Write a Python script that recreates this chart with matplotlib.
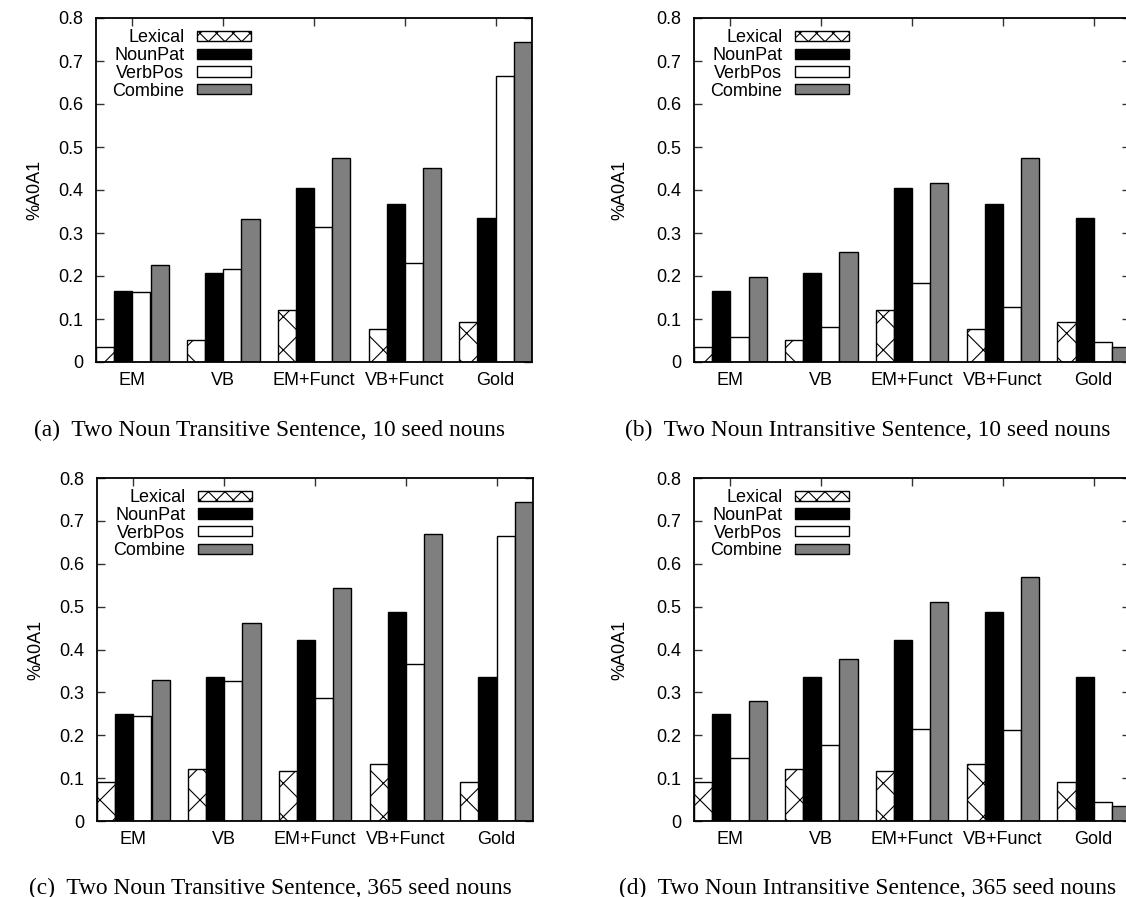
import numpy as np
import matplotlib
matplotlib.use("Agg")
import matplotlib.pyplot as plt
from matplotlib.patches import Patch

# categories and series
categories = ["EM", "VB", "EM+Funct", "VB+Funct", "Gold"]
series = ["Lexical", "NounPat", "VerbPos", "Combine"]

# (a) transitive, 10 seed nouns
a_lexical = [0.036, 0.052, 0.122, 0.077, 0.092]
a_nounpat = [0.165, 0.206, 0.404, 0.367, 0.336]
a_verbpos = [0.163, 0.217, 0.314, 0.230, 0.665]
a_combine = [0.225, 0.333, 0.475, 0.452, 0.744]

# (b) intransitive, 10 seed nouns
b_lexical = [0.036, 0.052, 0.122, 0.077, 0.092]
b_nounpat = [0.165, 0.206, 0.404, 0.367, 0.336]
b_verbpos = [0.057, 0.081, 0.183, 0.129, 0.046]
b_combine = [0.197, 0.255, 0.417, 0.475, 0.036]

# (c) transitive, 365 seed nouns
c_lexical = [0.092, 0.122, 0.116, 0.134, 0.092]
c_nounpat = [0.249, 0.337, 0.423, 0.488, 0.336]
c_verbpos = [0.246, 0.327, 0.287, 0.367, 0.664]
c_combine = [0.329, 0.461, 0.543, 0.670, 0.744]

# (d) intransitive, 365 seed nouns
d_lexical = [0.092, 0.122, 0.116, 0.134, 0.092]
d_nounpat = [0.249, 0.337, 0.423, 0.488, 0.336]
d_verbpos = [0.147, 0.178, 0.214, 0.212, 0.045]
d_combine = [0.280, 0.377, 0.510, 0.570, 0.036]

captions = [
    "(a)  Two Noun Transitive Sentence, 10 seed nouns",
    "(b)  Two Noun Intransitive Sentence, 10 seed nouns",
    "(c)  Two Noun Transitive Sentence, 365 seed nouns",
    "(d)  Two Noun Intransitive Sentence, 365 seed nouns",
]
y_ticks = [0, 0.1, 0.2, 0.3, 0.4, 0.5, 0.6, 0.7, 0.8]

panels = [
    [a_lexical, a_nounpat, a_verbpos, a_combine],
    [b_lexical, b_nounpat, b_verbpos, b_combine],
    [c_lexical, c_nounpat, c_verbpos, c_combine],
    [d_lexical, d_nounpat, d_verbpos, d_combine],
]

plt.rcParams['font.family'] = ['Liberation Sans', 'DejaVu Sans']
plt.rcParams['hatch.linewidth'] = 0.8

W, H = 1126, 897
fig = plt.figure(figsize=(W / 100, H / 100), dpi=100)

# стиль столбцов (как в gnuplot)
styles = [
    dict(facecolor='white', hatch='x'),
    dict(facecolor='black'),
    dict(facecolor='white'),
    dict(facecolor='#7f7f7f'),
]

# позиции осей в пикселях: left, top, bottom
boxes = [(96, 18, 362), (694, 18, 362), (97, 478, 821), (694, 478, 821)]
ax_w = 436
label_x = [-0.12, -0.15, -0.12, -0.15]
cap_pos = [(270, 430), (868, 430), (270, 888), (868, 888)]

x = np.arange(len(categories))
bar_width = 0.2
fs = 13

for k, (vals, (left, top, bottom)) in enumerate(zip(panels, boxes)):
    ax = fig.add_axes([left / W, 1 - bottom / H, ax_w / W, (bottom - top) / H])
    for i, v in enumerate(vals):
        ax.bar(x + (i - 1.5) * bar_width, v, width=bar_width, edgecolor='black',
               linewidth=1.0, label=series[i], **styles[i])
    ax.set_xlim(-0.4, 4.4)
    ax.set_ylim(0, 0.8)
    ax.set_xticks(x)
    ax.set_xticklabels(categories)
    ax.set_yticks(y_ticks)
    ax.set_yticklabels([f"{t:g}" for t in y_ticks])
    ax.tick_params(direction='in', top=True, right=True, length=5.8, width=1.0,
                   labelsize=fs, color='#333333')
    ax.tick_params(axis='x', pad=7)
    ax.tick_params(axis='y', pad=9)
    ax.set_axisbelow(True)
    for s in ax.spines.values():
        s.set_linewidth(1.3)
    ax.set_ylabel('%A0A1', fontsize=fs)
    ax.yaxis.set_label_coords(label_x[k], 0.5)

    # легенда: подпись слева, образец справа, штриховка в образце мельче
    handles = [
        Patch(facecolor='white', edgecolor='black', hatch='xx', linewidth=1.0),
        Patch(facecolor='black', edgecolor='black', linewidth=1.0),
        Patch(facecolor='white', edgecolor='black', linewidth=1.0),
        Patch(facecolor='#7f7f7f', edgecolor='black', linewidth=1.0),
    ]
    ax.legend(handles, series, loc='upper right', bbox_to_anchor=(0.356, 0.967),
              frameon=False, markerfirst=False, fontsize=fs, handlelength=3.0,
              handleheight=0.5, handletextpad=0.7, labelspacing=0.04,
              borderpad=0, borderaxespad=0)

    cx, cy = cap_pos[k]
    fig.text(cx / W, 1 - cy / H, captions[k], ha='center', va='center',
             family=['Liberation Serif', 'DejaVu Serif'], fontsize=16.8)

fig.savefig('out.png', dpi=100)
